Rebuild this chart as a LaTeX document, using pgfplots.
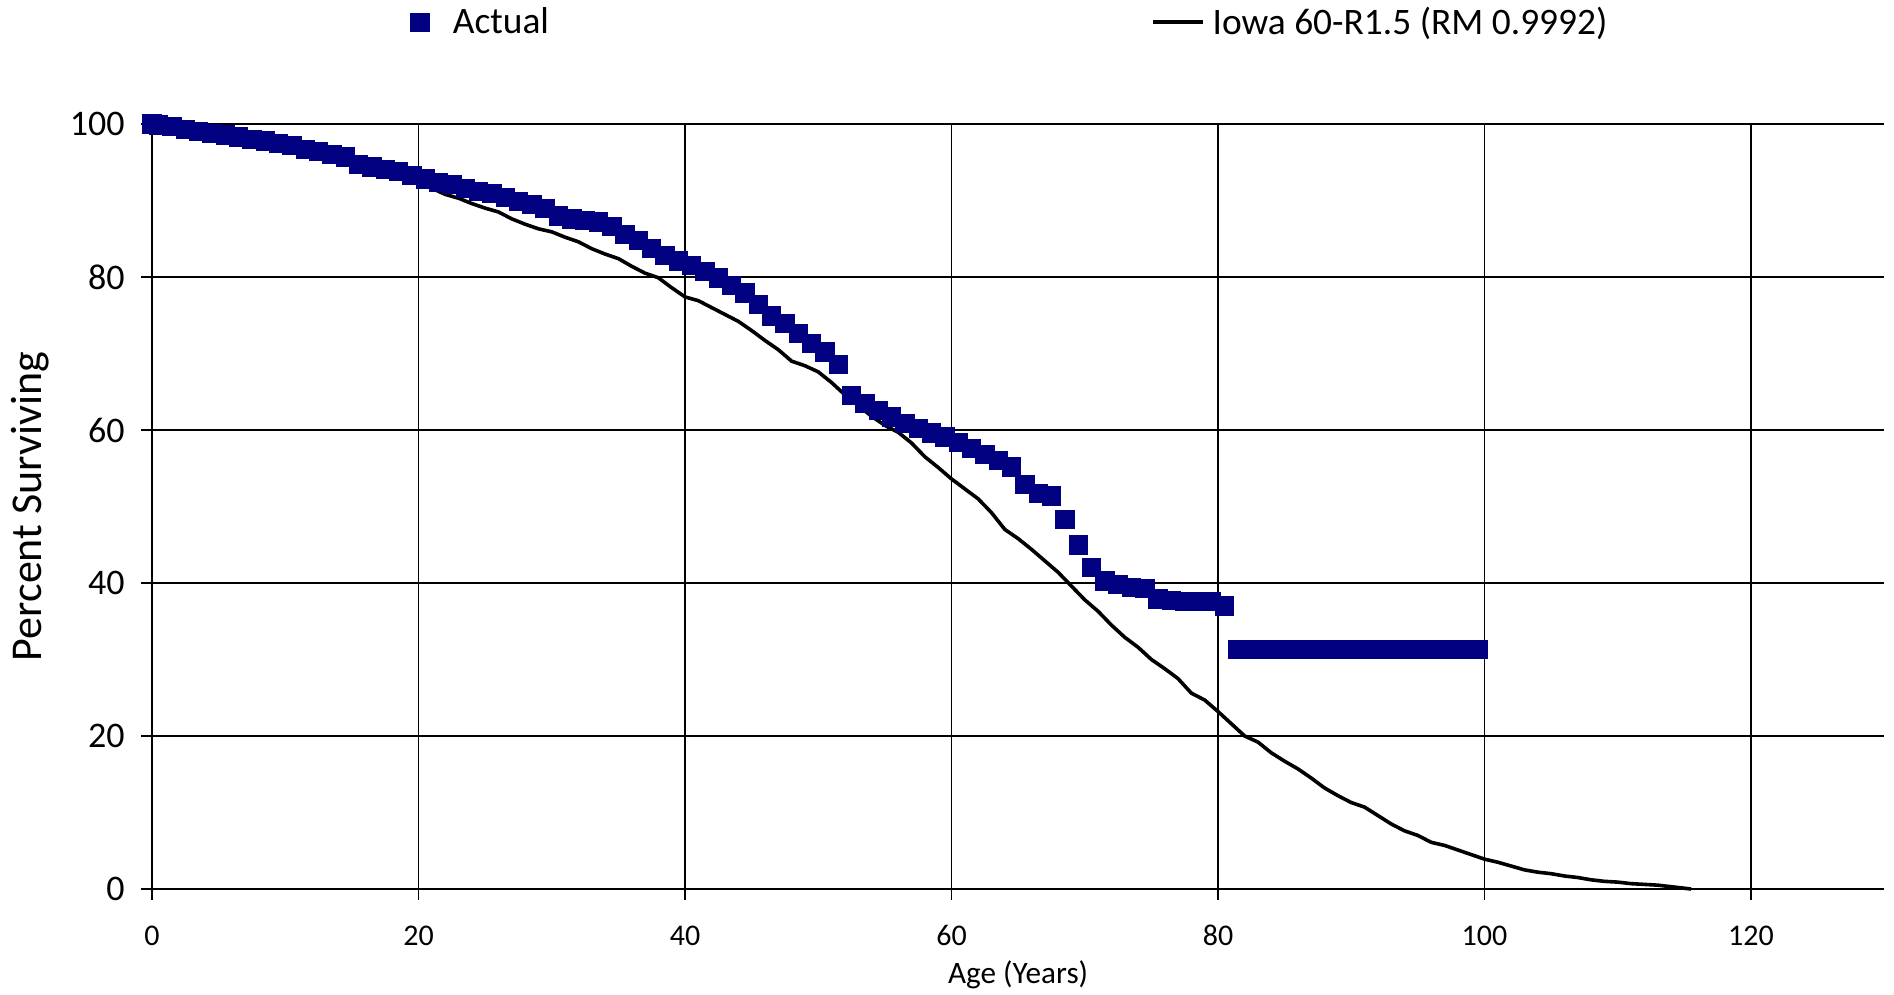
\documentclass[border=0pt]{standalone}
\usepackage{pgfplots}
\pgfplotsset{compat=1.18}
\usepackage{fontspec}
\setmainfont{Carlito}
\definecolor{navyblue}{RGB}{0,0,128}
\pgfplotsset{
  markimg/.style={legend image code/.code={\draw[##1] plot coordinates {(0pt,0pt)};}},
  lineimg/.style={legend image code/.code={\draw[##1] (0pt,0pt) -- (25pt,0pt);}},
}
\pgfplotstableread{
age val
0 100
0.5 99.9
1.5 99.7
2.5 99.3
3.5 99.0
4.5 98.8
5.5 98.6
6.5 98.3
7.5 98.0
8.5 97.8
9.5 97.5
10.5 97.2
11.5 96.7
12.5 96.4
13.5 96.0
14.5 95.7
15.5 94.7
16.5 94.4
17.5 94.1
18.5 93.8
19.5 93.3
20.5 92.8
21.5 92.4
22.5 92.1
23.5 91.6
24.5 91.2
25.5 90.9
26.5 90.4
27.5 89.9
28.5 89.5
29.5 89.0
30.5 88.0
31.5 87.6
32.5 87.4
33.5 87.2
34.5 86.6
35.5 85.6
36.5 84.8
37.5 83.7
38.5 82.8
39.5 82.1
40.5 81.5
41.5 80.7
42.5 79.9
43.5 78.9
44.5 77.9
45.5 76.4
46.5 74.9
47.5 73.9
48.5 72.6
49.5 71.3
50.5 70.2
51.5 68.6
52.5 64.5
53.5 63.5
54.5 62.6
55.5 61.7
56.5 60.9
57.5 60.2
58.5 59.6
59.5 59.1
60.5 58.4
61.5 57.6
62.5 56.8
63.5 56.0
64.5 55.2
65.5 52.9
66.5 51.7
67.5 51.4
68.5 48.3
69.5 45.0
70.5 42.0
71.5 40.3
72.5 39.8
73.5 39.4
74.5 39.3
75.5 37.9
76.5 37.7
77.5 37.6
78.5 37.6
79.5 37.6
80.5 37.0
81.5 31.3
82.5 31.3
83.5 31.3
84.5 31.3
85.5 31.3
86.5 31.3
87.5 31.3
88.5 31.3
89.5 31.3
90.5 31.3
91.5 31.3
92.5 31.3
93.5 31.3
94.5 31.3
95.5 31.3
96.5 31.3
97.5 31.3
98.5 31.3
99.5 31.3
}\actualdata
\pgfplotstableread{
age val
0 100
2 99.5
4 99.0
6 98.4
8 97.8
10 97.1
12 96.4
14 95.7
16 94.9
18 94.0
20 93.0
21 91.6
22 90.8
23 90.3
24 89.6
25 89.0
26 88.5
27 87.6
28 86.9
29 86.3
30 85.9
31 85.2
32 84.6
33 83.7
34 83.0
35 82.4
36 81.4
37 80.5
38 79.9
39 78.6
40 77.4
41 76.9
42 76.0
43 75.1
44 74.2
45 73.0
46 71.7
47 70.5
48 69.0
49 68.4
50 67.6
51 66.2
52 64.6
53 63.2
54 61.8
55 60.6
56 59.7
57 58.3
58 56.5
59 55.1
60 53.6
61 52.3
62 51.0
63 49.2
64 47.0
65 45.8
66 44.4
67 42.9
68 41.4
69 39.6
70 37.8
71 36.3
72 34.5
73 32.9
74 31.6
75 30.0
76 28.8
77 27.5
78 25.6
79 24.7
80 23.2
81 21.6
82 20.0
83 19.2
84 17.8
85 16.7
86 15.7
87 14.5
88 13.2
89 12.2
90 11.3
91 10.7
92 9.6
93 8.5
94 7.6
95 7.0
96 6.1
97 5.7
98 5.1
99 4.5
100 3.9
101 3.5
102 3.0
103 2.5
104 2.2
105 2.0
106 1.7
107 1.5
108 1.2
109 1.0
110 0.9
111 0.7
112 0.6
113 0.5
114 0.3
115 0.1
115.5 0.0
}\iowadata
\begin{document}
\begin{tikzpicture}
\useasboundingbox (0,0) rectangle (947pt,497.5pt);
\begin{axis}[
  at={(76pt,53pt)}, anchor=south west,
  x=6.6625pt, y=3.825pt,
  xmin=0, xmax=130, ymin=0, ymax=100,
  axis lines*=left,
  clip=false,
  xtick={0,20,...,120},
  ytick={0,20,...,100},
  tick align=outside,
  major tick length=5.5pt,
  tick style={black, line width=0.8pt},
  grid=major,
  major grid style={black, line width=0.8pt},
  x axis line style={black, line width=1.2pt},
  y axis line style={black, line width=0.8pt},
  /pgf/number format/assume math mode=true,
  xticklabel style={font=\fontsize{15}{18}\selectfont, anchor=base, inner sep=0pt, yshift=-22.5pt},
  yticklabel style={font=\fontsize{18}{21}\selectfont, anchor=east, inner sep=0pt, xshift=-8pt},
  xlabel={Age (Years)},
  ylabel={Percent Surviving},
  xlabel style={font=\fontsize{15.6}{18}\selectfont, at={(axis description cs:0.5,-0.1229)}, anchor=base, inner sep=0pt},
  ylabel style={font=\fontsize{22}{26}\selectfont, at={(axis description cs:-0.0635,0.5)}, anchor=base, inner sep=0pt},
  legend columns=2,
  legend style={draw=none, fill=none, font=\fontsize{18.7}{22}\selectfont,
    at={(axis description cs:0.149,1.133)}, anchor=west,
    inner sep=0pt, column sep=0pt, row sep=0pt,
    nodes={inner sep=0pt},
    /tikz/column 1/.style={column sep=12pt},
    /tikz/column 2/.style={column sep=301pt},
    /tikz/column 3/.style={column sep=4pt}},
]
\addplot[only marks, mark=square*, mark size=4.6pt, color=navyblue, fill=navyblue, markimg]
  table[x=age,y=val] {\actualdata};
\addlegendentry{Actual}
\addplot[black, line width=1.8pt, no marks, lineimg]
  table[x=age,y=val] {\iowadata};
\addlegendentry{Iowa 60-R1.5 (RM 0.9992)}
\end{axis}
\end{tikzpicture}
\end{document}
